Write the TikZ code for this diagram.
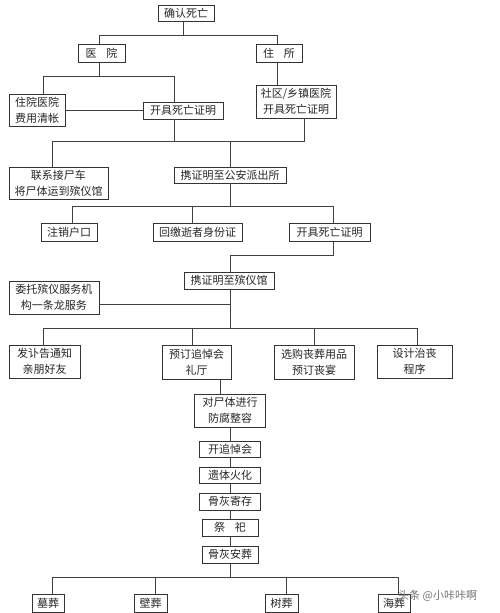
\documentclass[tikz,border=0pt]{standalone}
\usepackage{fontspec}
\setmainfont{Noto Sans CJK SC}
\begin{document}
\begin{tikzpicture}[x=1pt,y=-1pt,
  box/.style={draw=black!80,line width=0.8pt,inner sep=0pt,align=center,
    font=\fontsize{11}{16}\selectfont,text=black!85},
  conn/.style={draw=black!75,line width=0.8pt}]
\useasboundingbox[fill=white] (0,0) rectangle (500,613);
% nodes
\node[box,minimum width=56,minimum height=16] (confirm) at (186,13) {确认死亡};
\node[box,minimum width=47,minimum height=18] (hosp) at (101.5,53) {医\hspace{0.9em}院};
\node[box,minimum width=46,minimum height=18] (home) at (279,53) {住\hspace{0.9em}所};
\node[box,minimum width=56,minimum height=32] (fee) at (37,110) {住院医院\\费用清帐};
\node[box,minimum width=80,minimum height=17] (cert1) at (183,110.5) {开具死亡证明};
\node[box,minimum width=80,minimum height=33] (comm) at (296,101.5) {社区/乡镇医院\\开具死亡证明};
\node[box,minimum width=99,minimum height=32] (hearse) at (58.5,183) {联系接尸车\\将尸体运到殡仪馆};
\node[box,minimum width=112,minimum height=16] (police) at (230,175) {携证明至公安派出所};
\node[box,minimum width=56,minimum height=18] (cancel) at (69,232) {注销户口};
\node[box,minimum width=89,minimum height=18] (idcard) at (197.5,232) {回缴逝者身份证};
\node[box,minimum width=81,minimum height=18] (cert2) at (329.5,232) {开具死亡证明};
\node[box,minimum width=90,minimum height=17] (funeralhome) at (229,280.5) {携证明至殡仪馆};
\node[box,minimum width=90,minimum height=33] (entrust) at (54,297.5) {委托殡仪服务机\\构一条龙服务};
\node[box,minimum width=71,minimum height=33] (notify) at (44.5,361.5) {发讣告通知\\亲朋好友};
\node[box,minimum width=69,minimum height=34] (hall) at (196.5,362) {预订追悼会\\礼厅};
\node[box,minimum width=80,minimum height=34] (goods) at (314,362) {选购丧葬用品\\预订丧宴};
\node[box,minimum width=75,minimum height=33] (design) at (414.5,361.5) {设计治丧\\程序};
\node[box,minimum width=71,minimum height=33] (embalm) at (230,410.5) {对尸体进行\\防腐整容};
\node[box,minimum width=61,minimum height=16] (memorial) at (230,449) {开追悼会};
\node[box,minimum width=61,minimum height=16] (cremate) at (230,475) {遗体火化};
\node[box,minimum width=61,minimum height=17] (store) at (230,501.5) {骨灰寄存};
\node[box,minimum width=56,minimum height=17] (sacrifice) at (230,527.5) {祭\hspace{0.9em}祀};
\node[box,minimum width=56,minimum height=17] (bury) at (230,554.5) {骨灰安葬};
\node[box,minimum width=32,minimum height=18] (tomb) at (48,603) {墓葬};
\node[box,minimum width=33,minimum height=18] (wall) at (150.5,603) {壁葬};
\node[box,minimum width=33,minimum height=18] (tree) at (281.5,603) {树葬};
\node[box,minimum width=32,minimum height=18] (sea) at (394,603) {海葬};
% connectors
\draw[conn] ([xshift=-3]confirm.south) -- ++(0,15);
\draw[conn] ([xshift=-2.5]hosp.north) -- ++(0,-8) -| ([xshift=-2]home.north);
\draw[conn] ([xshift=-2.5]hosp.south) -- ++(0,15);
\draw[conn] ([xshift=6]fee.north) -- ++(0,-17) -| ([xshift=-9]cert1.north);
\draw[conn] (fee.east) -- (fee.east -| cert1.west);
\draw[conn] ([xshift=-2]home.south) -- ([xshift=-19]comm.north);
\draw[conn] ([xshift=-6.5]hearse.north) -- ++(0,-25) -| ([xshift=8]comm.south);
\draw[conn] ([xshift=-9]cert1.south) -- ++(0,23);
\draw[conn] (police.north) -- ++(0,-25);
\draw[conn] (police.south) -- ++(0,24);
\draw[conn] ([xshift=3]cancel.north) -- ++(0,-16) -| ([xshift=3.5]cert2.north);
\draw[conn] ([xshift=-5.5]idcard.north) -- ++(0,-16);
\draw[conn] ([xshift=3.5]cert2.south) -- ++(0,14) -| ([xshift=1]funeralhome.north);
\draw[conn] ([yshift=-6.5]entrust.east) -- ++(131,0);
\draw[conn] ([xshift=1]funeralhome.south) -- ++(0,40);
\draw[conn] ([xshift=-1.5]notify.north) -- ++(0,-16) -| ([xshift=2.5]design.north);
\draw[conn] ([xshift=-4.5]hall.north) -- ++(0,-16);
\draw[conn] (goods.north) -- ++(0,-16);
\draw[conn] ([xshift=23.5]hall.south) -- ++(0,15);
\draw[conn] (embalm.south) -- (memorial.north);
\draw[conn] (memorial.south) -- (cremate.north);
\draw[conn] (cremate.south) -- (store.north);
\draw[conn] (store.south) -- (sacrifice.north);
\draw[conn] (sacrifice.south) -- (bury.north);
\draw[conn] (bury.south) -- ++(0,15);
\draw[conn] ([xshift=4]tomb.north) -- ++(0,-16) -| ([xshift=4]sea.north);
\draw[conn] ([xshift=4.5]wall.north) -- ++(0,-16);
\draw[conn] ([xshift=4.5]tree.north) -- ++(0,-16);
% watermark
\node[font=\fontsize{11}{13}\selectfont,text=black!55,anchor=west,inner sep=0pt] (wm) at (398,596) {头条 @小咔咔啊};
\end{tikzpicture}
\end{document}
